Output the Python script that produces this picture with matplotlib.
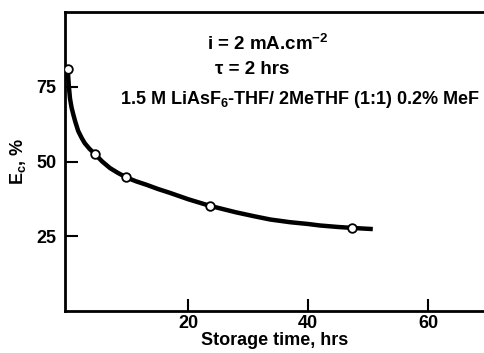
import matplotlib
matplotlib.use("Agg")
import matplotlib.pyplot as plt
from matplotlib.ticker import FixedLocator

plt.rcParams['font.family'] = ['Liberation Sans', 'DejaVu Sans']
plt.rcParams['font.weight'] = 'bold'
plt.rcParams['axes.labelweight'] = 'bold'
plt.rcParams['mathtext.fontset'] = 'custom'
plt.rcParams['mathtext.rm'] = 'Liberation Sans:bold'
plt.rcParams['mathtext.it'] = 'Liberation Sans:bold'
plt.rcParams['mathtext.bf'] = 'Liberation Sans:bold'
plt.rcParams['mathtext.default'] = 'rm'

# Measured points: storage time (hrs) vs cycling efficiency (%)
time_pts = [0.0, 4.5, 9.7, 23.6, 47.3]
eff_pts = [81.0, 52.5, 44.7, 35.2, 27.8]

# Hand-drawn trend curve through the measurements
curve_t = [0.0, 0.15, 0.33, 0.6, 0.9, 1.2, 1.7, 2.3, 2.8, 3.6, 4.5, 5.7, 7.0,
           8.3, 9.7, 11.3, 13.1, 15.0, 17.0, 20.0, 23.6, 26.0, 28.0, 31.0,
           33.7, 37.0, 40.0, 42.0, 45.0, 47.3, 49.0, 50.8]
curve_e = [79.5, 75.0, 71.1, 68.0, 65.6, 63.4, 60.2, 57.8, 56.1, 54.2, 52.5,
           50.0, 47.8, 46.2, 44.7, 43.4, 42.2, 40.8, 39.5, 37.4, 35.2, 34.0,
           33.0, 31.7, 30.6, 29.7, 29.1, 28.6, 28.1, 27.8, 27.6, 27.4]

x_ticks = [20, 40, 60]
y_ticks = [25, 50, 75]

fig = plt.figure(figsize=(4.85, 3.53), dpi=100)
ax = fig.add_axes([65 / 485, 1 - 311 / 353, 420 / 485, 299 / 353])

ax.plot(curve_t, curve_e, color='black', lw=3.2, solid_capstyle='butt',
        solid_joinstyle='round', zorder=2)
ax.plot(time_pts, eff_pts, linestyle='none', marker='o', markersize=6.2,
        markerfacecolor='white', markeredgecolor='black', markeredgewidth=1.3, zorder=3)

ax.set_xlim(-0.5, 69.5)
ax.set_ylim(0, 100)
ax.xaxis.set_major_locator(FixedLocator(x_ticks))
ax.yaxis.set_major_locator(FixedLocator(y_ticks))
ax.tick_params(direction='in', length=9, width=1.5, labelsize=13)
ax.tick_params(axis='x', pad=3)
ax.tick_params(axis='y', pad=6)

for side in ('left', 'bottom', 'top'):
    ax.spines[side].set_linewidth(2)
ax.spines['right'].set_visible(False)

ax.set_xlabel('Storage time, hrs', fontsize=13, labelpad=0)
ax.set_ylabel('E$_c$, %', fontsize=13, labelpad=6)

ax.text(23.2, 89.3, 'i = 2 mA.cm$^{-2}$', fontsize=13.5, va='center', ha='left')
ax.text(24.5, 80.7, 'τ = 2 hrs', fontsize=13.5, va='center', ha='left')
ax.text(8.7, 70.6, '1.5 M LiAsF$_6$-THF/ 2MeTHF (1:1) 0.2% MeF', fontsize=13,
        va='center', ha='left')

fig.savefig('out.png', dpi=100)
